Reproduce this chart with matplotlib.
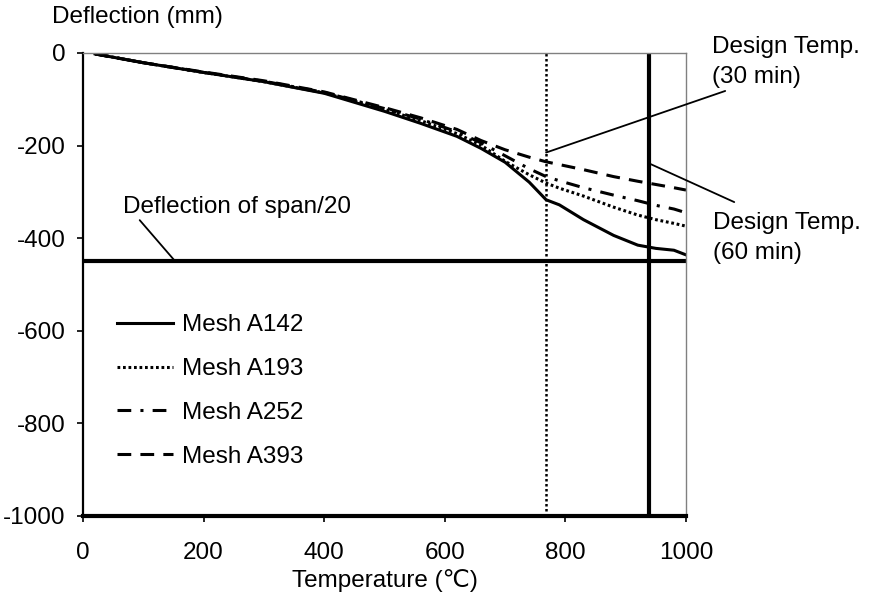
import matplotlib
matplotlib.use('Agg')
import matplotlib.pyplot as plt

plt.rcParams.update({
    'font.family':       ['Liberation Sans', 'DejaVu Sans'],
    'font.size':         17.5,
    'axes.unicode_minus': False,
})

# temperature (C) and mid-span deflection (mm) per mesh
temp = [20, 100, 200, 300, 400, 500, 560, 620, 660, 700, 740, 768, 790,
        830, 880, 920, 950, 980, 1000]
a142 = [-2, -21, -42, -62, -87, -126, -152, -180, -206, -236, -279, -317,
        -328, -360, -394, -415, -422, -426, -436]
a193 = [-2, -21, -42, -62, -86, -122, -146, -174, -199, -234, -263, -281,
        -292, -309, -333, -350, -360, -368, -374]
a252 = [-2, -21, -42, -61, -85, -120, -143, -170, -194, -222, -250, -267,
        -276, -291, -307, -319, -329, -337, -345]
a393 = [-2, -21, -41, -60, -84, -118, -140, -165, -189, -209, -225, -235,
        -241, -252, -267, -277, -284, -291, -296]

design_30 = 768     # design temperature, 30 min
design_60 = 938     # design temperature, 60 min
span_limit = -450   # deflection of span/20

fig = plt.figure(figsize=(8.71, 6.12), dpi=100)
ax = fig.add_axes([0.0953, 0.1569, 0.6923, 0.7565])

ax.plot(temp, a142, color='black', lw=2.2, label='Mesh A142')
ax.plot(temp, a193, color='black', lw=2.2, dashes=(0.9, 0.9), label='Mesh A193')
ax.plot(temp, a252, color='black', lw=2.2, dashes=(4.5, 3, 1, 3), label='Mesh A252')
ax.plot(temp, a393, color='black', lw=2.2, dashes=(4.5, 3), label='Mesh A393')

ax.axvline(design_30, color='black', lw=1.8, dashes=(1, 1))
ax.axvline(design_60, color='black', lw=3)
ax.axhline(span_limit, color='black', lw=3)

ax.set_xlim(0, 1000)
ax.set_ylim(-1000, 0)
ax.set_xticks(range(0, 1001, 200))
ax.set_yticks(range(-1000, 1, 200))

for side in ('top', 'right'):
    ax.spines[side].set_color('#808080')
    ax.spines[side].set_linewidth(1)
ax.spines['left'].set_linewidth(1.6)
ax.spines['bottom'].set_linewidth(3)
ax.tick_params(axis='x', direction='out', length=4, width=1.2, pad=15)
ax.tick_params(axis='y', direction='out', length=4.5, width=1.2, pad=8)

fig.text(52 / 871, 1 - 17 / 612, 'Deflection (mm)', ha='left', va='center')
fig.text(385 / 871, 1 - 581 / 612, 'Temperature (\u2103)', ha='center', va='center')

# leaders and notes
line_kw = dict(arrowstyle='-', color='black', lw=1.3, shrinkA=0, shrinkB=0)
ax.annotate('', xy=(design_30, -215), xytext=(1065, -82),
            arrowprops=line_kw, annotation_clip=False)
ax.text(1043, -20, 'Design Temp.\n(30 min)', ha='left', va='center',
        linespacing=1.45, clip_on=False)
ax.annotate('', xy=(design_60, -238), xytext=(1080, -322),
            arrowprops=line_kw, annotation_clip=False)
ax.text(1045, -400, 'Design Temp.\n(60 min)', ha='left', va='center',
        linespacing=1.45, clip_on=False)
ax.annotate('', xy=(153, span_limit), xytext=(94, -361), arrowprops=line_kw)
ax.text(66, -333, 'Deflection of span/20', ha='left', va='center')

ax.legend(loc='upper left', bbox_to_anchor=(0.057, 0.436), frameon=False,
          handlelength=2.3, handletextpad=0.35, labelspacing=0.9,
          borderpad=0, borderaxespad=0)

fig.savefig('out.png', dpi=100)
